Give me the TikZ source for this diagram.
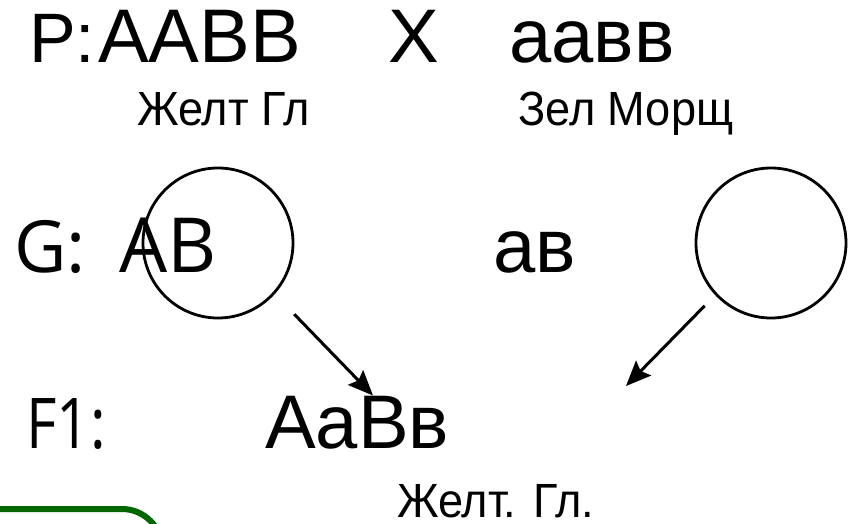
\documentclass[tikz,border=0pt]{standalone}
\usepackage{fontspec}
\setmainfont{Liberation Sans}
\newfontfamily\opensans{Open Sans}
\newfontfamily\opensansnarrow[FakeStretch=0.84]{Open Sans}
\newfontfamily\narrowsans[FakeStretch=0.94]{Liberation Sans}
\usetikzlibrary{arrows.meta}
\definecolor{boxgreen}{RGB}{0,102,0}

\begin{document}
\begin{tikzpicture}[x=1pt, y=-1pt,
  big/.style={anchor=base west, inner sep=0pt, font=\fontsize{76}{80}\selectfont},
  small/.style={anchor=base west, inner sep=0pt, font=\narrowsans\fontsize{48}{52}\selectfont},
  rowlbl/.style={anchor=base west, inner sep=0pt, font=\opensans\fontsize{72}{76}\selectfont},
  gamete/.style={draw, circle, line width=2.8pt, minimum size=150pt, inner sep=0pt},
  arrow/.style={line width=3pt, -{Stealth[length=25pt, width=21pt, inset=4pt]}}]
\useasboundingbox (0,0) rectangle (851,523);

% parents
\node[big, font=\fontsize{70}{74}\selectfont] (pLabel) at (29,62) {P:};
\node[big] (pMother) at (98,62) {AABB};
\node[big] (cross) at (388,62) {X};
\node[big] (pFather) at (509,62) {aaвв};
\node[small] (mPheno) at (137,125) {Желт Гл};
\node[small] (fPheno) at (518,125) {Зел Морщ};

% gametes
\node[rowlbl] (gLabel) at (14,272) {G:};
\node[rowlbl, font=\opensans\fontsize{76}{80}\selectfont] (gMother) at (119,272) {AB};
\node[big] (gFather) at (493,272) {aв};
\node[gamete] (gamA) at (218,243) {};
\node[gamete] (gamB) at (771,243) {};

% first generation
\node[rowlbl, font=\opensansnarrow\fontsize{70}{74}\selectfont] (fLabel) at (26,448) {F1:};
\node[big] (hybrid) at (265,448) {AaBв};
\node[small] (hPheno) at (397,517) {Желт. Гл.};
\coordinate (gap) at (626,386);

\draw[arrow, shorten <=28pt] (gamA.-42) -- ([xshift=108pt]hybrid.north west);
\draw[arrow, shorten <=15pt] (gamB.-137) -- (gap);

\draw[boxgreen, line width=6pt, rounded corners=40pt] (-60,509) rectangle (162,700);
\end{tikzpicture}
\end{document}
